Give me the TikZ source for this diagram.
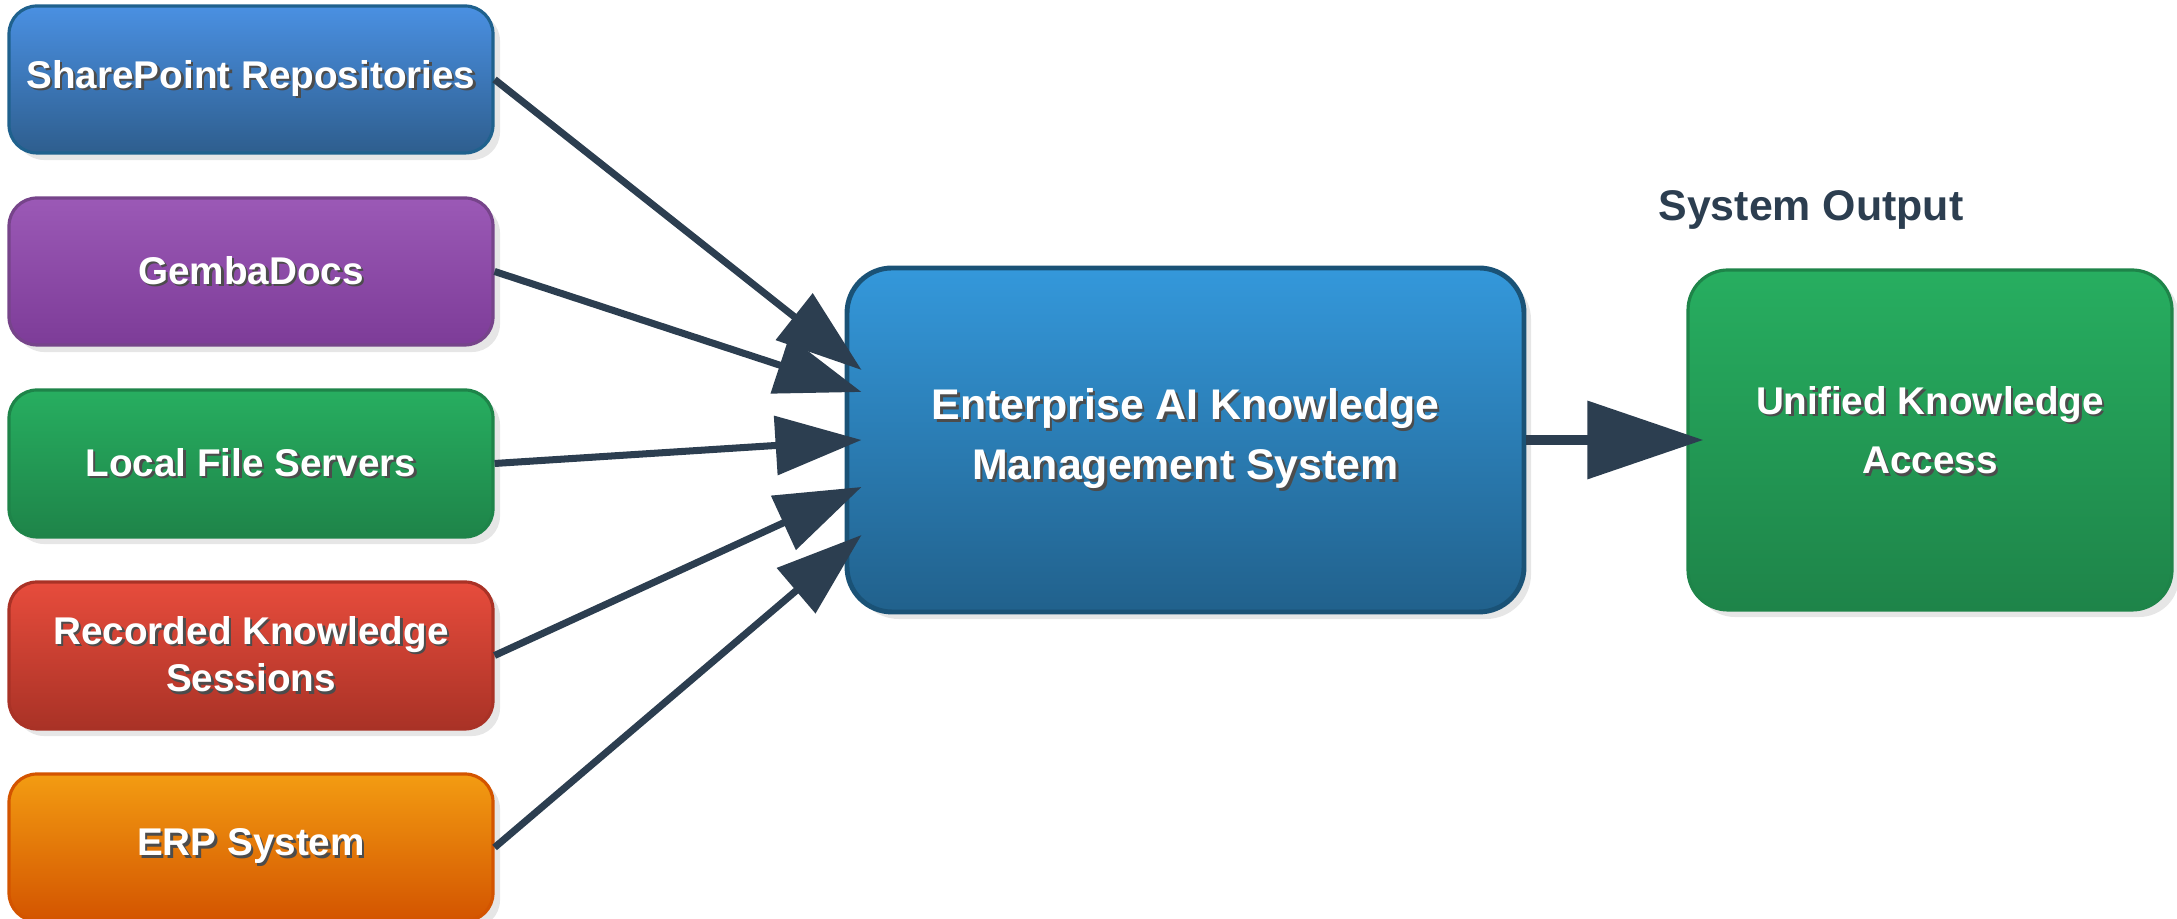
\documentclass[tikz,border=0pt]{standalone}
\usepackage{fontspec}
\setmainfont{Liberation Sans}
\usetikzlibrary{arrows.meta,shadows}

\definecolor{sptop}{HTML}{4A90E2}\definecolor{spbot}{HTML}{2E5E8E}\definecolor{spline}{HTML}{1F618D}
\definecolor{gbtop}{HTML}{9B59B6}\definecolor{gbbot}{HTML}{7D3C98}\definecolor{gbline}{HTML}{76448A}
\definecolor{grtop}{HTML}{27AE60}\definecolor{grbot}{HTML}{1E8449}\definecolor{grline}{HTML}{1E8449}
\definecolor{rdtop}{HTML}{E74C3C}\definecolor{rdbot}{HTML}{A93226}\definecolor{rdline}{HTML}{A93226}
\definecolor{ortop}{HTML}{F39C12}\definecolor{orbot}{HTML}{D35400}\definecolor{orline}{HTML}{D35400}
\definecolor{cotop}{HTML}{3498DB}\definecolor{cobot}{HTML}{21618C}\definecolor{coline}{HTML}{1A5276}
\definecolor{ink}{HTML}{2C3E50}

\newcommand\shtxt[1]{\leavevmode\rlap{\kern0.7pt\raisebox{-0.7pt}{\color{black!70}#1}}#1}

\begin{document}
\begin{tikzpicture}[
  box/.style={rounded corners=0.28cm, line width=0.9pt, text=white, align=center,
    drop shadow={shadow xshift=2pt,shadow yshift=-2pt,opacity=.2}},
  src/.style={box, minimum width=4.84cm, minimum height=1.47cm,
    font=\fontsize{11}{13.4}\selectfont\bfseries},
  conn/.style={draw=ink, line width=2pt,
    -{Triangle[length=0.86cm,width=0.58cm]}},
  outconn/.style={draw=ink, line width=2.85pt,
    -{Triangle[length=1.16cm,width=0.76cm]}}
]
\useasboundingbox (0,0) rectangle (21.77,9.19);

\node[src, top color=sptop, bottom color=spbot, draw=spline] (sp) at (2.51,8.395) {\shtxt{SharePoint Repositories}};
\node[src, top color=gbtop, bottom color=gbbot, draw=gbline] (gemba) at (2.51,6.475) {\shtxt{GembaDocs}};
\node[src, top color=grtop, bottom color=grbot, draw=grline] (files) at (2.51,4.555) {\shtxt{Local File Servers}};
\node[src, top color=rdtop, bottom color=rdbot, draw=rdline] (rec) at (2.51,2.635) {\shtxt{Recorded Knowledge}\\\shtxt{Sessions}};
\node[src, top color=ortop, bottom color=orbot, draw=orline] (erp) at (2.51,0.715) {\shtxt{ERP System}};

\node[box, rounded corners=0.45cm, line width=1.4pt, minimum width=6.77cm, minimum height=3.44cm,
  top color=cotop, bottom color=cobot, draw=coline, font=\fontsize{12.2}{17}\selectfont\bfseries]
  (core) at (11.855,4.79) {\shtxt{Enterprise AI Knowledge}\\\shtxt{Management System}};

\node[text=ink, font=\fontsize{12.2}{14}\selectfont\bfseries] (outlbl) at (18.11,7.09) {System Output};
\node[box, rounded corners=0.4cm, minimum width=4.84cm, minimum height=3.40cm, text depth=0.2cm,
  top color=grtop, bottom color=grbot, draw=grline, font=\fontsize{11}{17}\selectfont\bfseries]
  (out) at (19.30,4.79) {\shtxt{Unified Knowledge}\\\shtxt{Access}};

\draw[conn] (sp.east) -- ([xshift=0.17cm,yshift=0.70cm]core.west);
\draw[conn] (gemba.east) -- ([xshift=0.17cm,yshift=0.48cm]core.west);
\draw[conn] (files.east) -- ([xshift=0.17cm]core.west);
\draw[conn] (rec.east) -- ([xshift=0.17cm,yshift=-0.47cm]core.west);
\draw[conn] (erp.east) -- ([xshift=0.17cm,yshift=-0.95cm]core.west);
\draw[outconn] (core.east) -- ([xshift=0.17cm]out.west);
\end{tikzpicture}
\end{document}
